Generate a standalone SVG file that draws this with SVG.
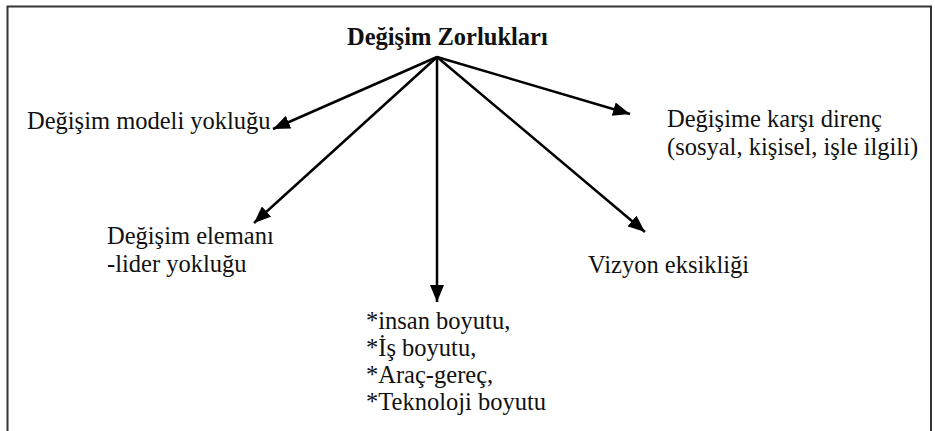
<svg xmlns="http://www.w3.org/2000/svg" width="935" height="431" viewBox="0 0 935 431">
<defs>
<marker id="ah" markerUnits="userSpaceOnUse" markerWidth="18" markerHeight="14" refX="17" refY="7" orient="auto">
<path d="M0,0 L17,7 L0,14 Z" fill="#000"/>
</marker>
<style>
text{font-family:'Liberation Serif','DejaVu Serif','Times New Roman',Times,serif;font-size:24.5px;fill:#111}
.t{font-weight:bold}
.c{stroke:#000;stroke-width:2.5;fill:none;marker-end:url(#ah)}
</style>
</defs>
<rect width="935" height="431" fill="#fff"/>
<path d="M7.5,431 V6.5 H931 V431" fill="none" stroke="#333" stroke-width="2"/>
<g id="connectors">
<line class="c" x1="437" y1="57" x2="273" y2="129"/>
<line class="c" x1="437" y1="57" x2="254" y2="223"/>
<line class="c" x1="437" y1="57" x2="437" y2="302"/>
<line class="c" x1="437" y1="57" x2="645" y2="232"/>
<line class="c" x1="437" y1="57" x2="630" y2="114"/>
</g>
<g font-family="Liberation Serif, serif">
<g id="title"><text class="t" x="347" y="45">Değişim Zorlukları</text></g>
<g id="model"><text x="27" y="129">Değişim modeli yokluğu</text></g>
<g id="eleman"><text x="107" y="244">Değişim elemanı</text><text x="107" y="272">-lider yokluğu</text></g>
<g id="boyut"><text x="366" y="329">*insan boyutu,</text><text x="366" y="356">*İş boyutu,</text><text x="366" y="383">*Araç-gereç,</text><text x="366" y="410">*Teknoloji boyutu</text></g>
<g id="vizyon"><text x="588" y="273">Vizyon eksikliği</text></g>
<g id="direnc"><text x="667" y="127">Değişime karşı direnç</text><text x="667" y="155">(sosyal, kişisel, işle ilgili)</text></g>
</g>
</svg>
